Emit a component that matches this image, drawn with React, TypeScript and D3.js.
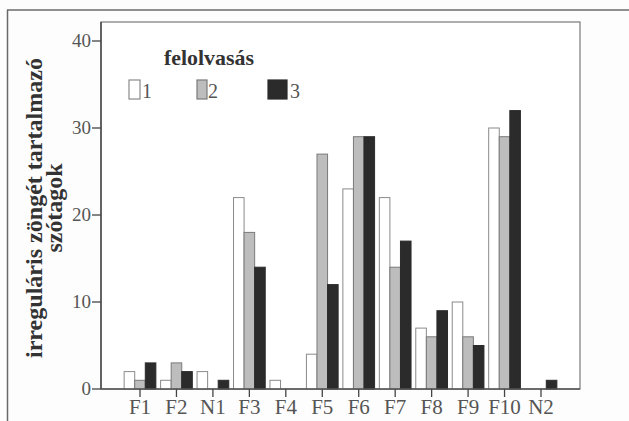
import React from "react";
import * as d3 from "d3";

const categories = ["F1", "F2", "N1", "F3", "F4", "F5", "F6", "F7", "F8", "F9", "F10", "N2"];
const seriesNames = ["1", "2", "3"];
const series1 = [2, 1, 2, 22, 1, 4, 23, 22, 7, 10, 30, 0];
const series2 = [1, 3, 0, 18, 0, 27, 29, 14, 6, 6, 29, 0];
const series3 = [3, 2, 1, 14, 0, 12, 29, 17, 9, 5, 32, 1];
const yTicks = [0, 10, 20, 30, 40];
const legendTitle = "felolvasás";
const yTitle1 = "irreguláris zöngét tartalmazó";
const yTitle2 = "szótagok";

const W = 629;
const H = 421;
const plot = { left: 101, right: 580, top: 22, bottom: 389 };
const fills = ["#ffffff", "#bdbdbd", "#2b2b2b"];
const strokes = ["#8a8a8a", "#7a7a7a", "#2b2b2b"];
const font = "'Liberation Serif', 'Times New Roman', serif";

export default function App() {
  const seriesData = [series1, series2, series3];
  const x = d3
    .scaleBand<string>()
    .domain(categories)
    .range([plot.left, plot.right])
    .paddingInner(0.13)
    .paddingOuter(0.635);
  const xSub = d3
    .scaleBand<string>()
    .domain(seriesNames)
    .range([0, x.bandwidth()]);
  const y = d3.scaleLinear().domain([0, 40]).range([plot.bottom, 41]);

  const legendItems = [
    { x: 129, w: 11, tx: 142 },
    { x: 197, w: 10, tx: 208 },
    { x: 268, w: 19, tx: 290 },
  ];

  return (
    <svg
      width={W}
      height={H}
      style={{ position: "absolute", left: 0, top: 0, background: "#fdfdfd" }}
    >
      <rect x={0} y={0} width={W} height={H} fill="#fdfdfd" />
      {/* outer frame */}
      <line x1={7} y1={10} x2={W} y2={10} stroke="#6a6a6a" strokeWidth={1.5} />
      <line x1={7.5} y1={10} x2={7.5} y2={H} stroke="#6a6a6a" strokeWidth={1.5} />

      {/* plot frame */}
      <rect
        x={plot.left}
        y={plot.top}
        width={plot.right - plot.left}
        height={plot.bottom - plot.top}
        fill="#ffffff"
        stroke="#7a7a7a"
        strokeWidth={1.2}
      />

      {/* bars */}
      {categories.map((c, i) => (
        <g key={c}>
          {seriesData.map((s, j) => {
            const v = s[i];
            if (v <= 0) return null;
            const bx = (x(c) as number) + (xSub(seriesNames[j]) as number);
            return (
              <rect
                key={j}
                x={bx}
                y={y(v)}
                width={xSub.bandwidth()}
                height={y(0) - y(v)}
                fill={fills[j]}
                stroke={strokes[j]}
                strokeWidth={1}
              />
            );
          })}
        </g>
      ))}

      {/* y axis */}
      <line x1={plot.left} y1={plot.top} x2={plot.left} y2={plot.bottom} stroke="#444" strokeWidth={1.4} />
      {yTicks.map((t) => (
        <g key={t}>
          <line x1={plot.left - 9} x2={plot.left} y1={y(t)} y2={y(t)} stroke="#444" strokeWidth={1.3} />
          <text
            x={plot.left - 10}
            y={y(t) + 6}
            textAnchor="end"
            fontFamily={font}
            fontSize={19}
            fill="#555"
          >
            {t}
          </text>
        </g>
      ))}

      {/* x axis */}
      <line x1={plot.left} y1={plot.bottom} x2={plot.right} y2={plot.bottom} stroke="#555" strokeWidth={1.3} />
      {categories.map((c) => {
        const cx = (x(c) as number) + x.bandwidth() / 2;
        return (
          <g key={c}>
            <line x1={cx} x2={cx} y1={plot.bottom} y2={plot.bottom + 8} stroke="#444" strokeWidth={1.3} />
            <text
              x={cx}
              y={414}
              textAnchor="middle"
              fontFamily={font}
              fontSize={21}
              fill="#555"
            >
              {c}
            </text>
          </g>
        );
      })}

      {/* y title */}
      <text
        transform="translate(42,208) rotate(-90)"
        textAnchor="middle"
        fontFamily={font}
        fontWeight="bold"
        fontSize={24}
        fill="#333"
        textLength={300}
        lengthAdjust="spacingAndGlyphs"
      >
        {yTitle1}
      </text>
      <text
        transform="translate(62,208) rotate(-90)"
        textAnchor="middle"
        fontFamily={font}
        fontWeight="bold"
        fontSize={24}
        fill="#333"
        textLength={89}
        lengthAdjust="spacingAndGlyphs"
      >
        {yTitle2}
      </text>

      {/* legend */}
      <text
        x={164}
        y={65}
        fontFamily={font}
        fontWeight="bold"
        fontSize={22}
        fill="#333"
        textLength={90}
        lengthAdjust="spacingAndGlyphs"
      >
        {legendTitle}
      </text>
      {legendItems.map((l, j) => (
        <g key={j}>
          <rect x={l.x} y={80} width={l.w} height={19} fill={fills[j]} stroke={strokes[j]} strokeWidth={1.2} />
          <text x={l.tx} y={98} fontFamily={font} fontSize={20} fill="#555">
            {seriesNames[j]}
          </text>
        </g>
      ))}
    </svg>
  );
}
